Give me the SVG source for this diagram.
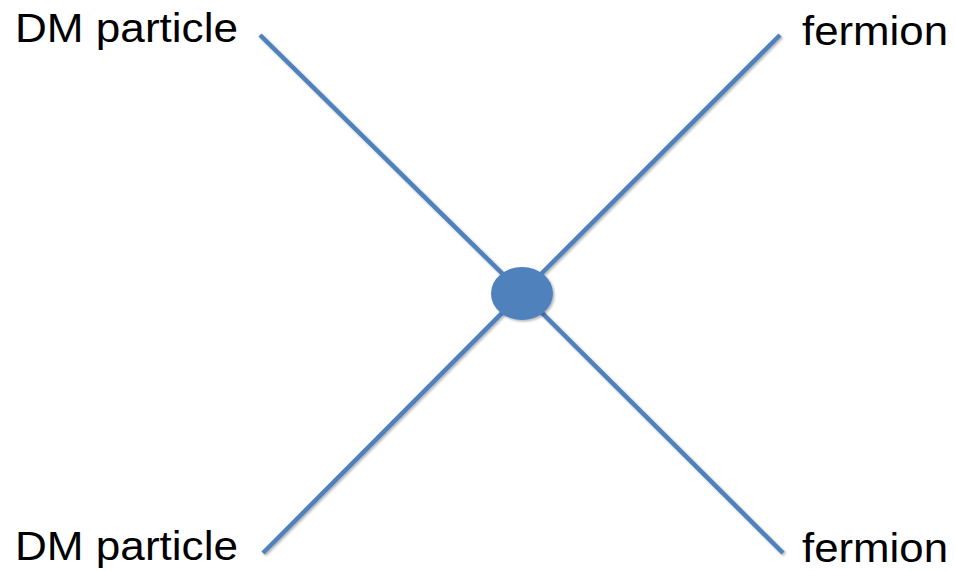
<svg xmlns="http://www.w3.org/2000/svg" width="955" height="571" viewBox="0 0 955 571">
  <style>
    .lbl { font-family: "Liberation Sans", Arial, sans-serif; font-size: 41px; fill: #000; }
    .edge { stroke: #4f81bd; stroke-width: 4.5; fill: none; }
  </style>
  <defs>
    <filter id="sh" x="-20%" y="-20%" width="140%" height="140%">
      <feDropShadow dx="1.5" dy="1.5" stdDeviation="1.2" flood-color="#000" flood-opacity="0.3"/>
    </filter>
  </defs>
  <rect width="955" height="571" fill="#fff"/>
  <g id="connectors" filter="url(#sh)">
    <line class="edge" x1="260" y1="35" x2="522" y2="293"/>
    <line class="edge" x1="780" y1="35" x2="522" y2="293"/>
    <line class="edge" x1="263" y1="553" x2="522" y2="293"/>
    <line class="edge" x1="783" y1="553" x2="522" y2="293"/>
  </g>
  <g id="vertex" filter="url(#sh)">
    <ellipse cx="522" cy="293.5" rx="31" ry="26.5" fill="#4f81bd"/>
  </g>
  <g id="dm-top">
    <text class="lbl" x="15" y="42" textLength="223" lengthAdjust="spacingAndGlyphs">DM particle</text>
  </g>
  <g id="fermion-top">
    <text class="lbl" x="802" y="45" textLength="146" lengthAdjust="spacingAndGlyphs">fermion</text>
  </g>
  <g id="dm-bottom">
    <text class="lbl" x="15" y="560" textLength="223" lengthAdjust="spacingAndGlyphs">DM particle</text>
  </g>
  <g id="fermion-bottom">
    <text class="lbl" x="802" y="562" textLength="146" lengthAdjust="spacingAndGlyphs">fermion</text>
  </g>
</svg>
